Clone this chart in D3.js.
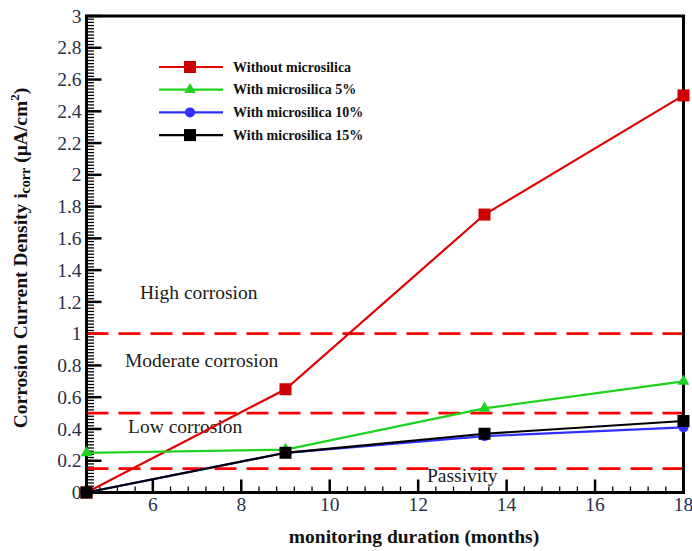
<!DOCTYPE html>
<html>
<head>
<meta charset="utf-8">
<script src="https://cdn.jsdelivr.net/npm/d3@7/dist/d3.min.js"></script>
<style>
  html, body { margin: 0; padding: 0; background: #fff; }
  svg { display: block; }
</style>
</head>
<body>
<svg id="chart" width="692" height="551"></svg>
<script>
// Monitoring times (months)
const months = [4.5, 9, 13.5, 18];

// Corrosion current density (µA/cm²) per mix
const withoutMicrosilica = [0, 0.65, 1.75, 2.5];
const microsilica5 = [0.25, 0.27, 0.53, 0.70];
const microsilica10 = [0, 0.25, 0.355, 0.41];
const microsilica15 = [0, 0.25, 0.37, 0.45];

const seriesNames = ["Without microsilica", "With microsilica 5%", "With microsilica 10%", "With microsilica 15%"];

// Corrosion-level thresholds and their labels
const thresholds = [1, 0.5, 0.15];
const zoneLabels = ["High corrosion", "Moderate corrosion", "Low corrosion", "Passivity"];

const xTicks = [6, 8, 10, 12, 14, 16, 18];
const yTicks = [0, 0.2, 0.4, 0.6, 0.8, 1, 1.2, 1.4, 1.6, 1.8, 2, 2.2, 2.4, 2.6, 2.8, 3];

const svg = d3.select("#chart");
const plotLeft = 86.5, plotRight = 683.5, plotTop = 16, plotBottom = 492.5;

const x = d3.scaleLinear().domain([4.5, 18]).range([plotLeft, plotRight]);
const y = d3.scaleLinear().domain([0, 3]).range([plotBottom, plotTop]);

const serif = "'Liberation Serif', 'Times New Roman', serif";
const tickColor = "#26304a";

// Minor tick positions
const yMinor = d3.range(0, 301, 2).map(v => v / 100).filter(v => !yTicks.some(t => Math.abs(t - v) < 1e-6));
const xMinor = d3.range(48, 181, 4).map(v => v / 10).filter(v => !xTicks.some(t => Math.abs(t - v) < 1e-6));

// Inward tick marks on the left axis
const tickLayer = svg.append("g").attr("stroke", "#000");
tickLayer.selectAll("line.ymin").data(yMinor).join("line").attr("class", "ymin")
  .attr("x1", plotLeft).attr("x2", plotLeft + 7.5)
  .attr("y1", d => y(d)).attr("y2", d => y(d)).attr("stroke-width", 1.3);
tickLayer.selectAll("line.ymaj").data(yTicks).join("line").attr("class", "ymaj")
  .attr("x1", plotLeft).attr("x2", plotLeft + 15)
  .attr("y1", d => y(d)).attr("y2", d => y(d)).attr("stroke-width", 2.5);

// Inward tick marks on the bottom axis
tickLayer.selectAll("line.xmin").data(xMinor).join("line").attr("class", "xmin")
  .attr("x1", d => x(d)).attr("x2", d => x(d))
  .attr("y1", plotBottom).attr("y2", plotBottom - 6).attr("stroke-width", 1.3);
tickLayer.selectAll("line.xmaj").data(xTicks).join("line").attr("class", "xmaj")
  .attr("x1", d => x(d)).attr("x2", d => x(d))
  .attr("y1", plotBottom).attr("y2", plotBottom - 13).attr("stroke-width", 2.5);

// Tick labels
const fmtY = d3.format("~g");
svg.append("g").selectAll("text").data(yTicks).join("text")
  .attr("x", plotLeft - 5).attr("y", d => y(d)).attr("dy", "0.34em")
  .attr("text-anchor", "end")
  .attr("font-family", serif).attr("font-size", 19.5).attr("fill", tickColor)
  .text(d => fmtY(d));

svg.append("g").selectAll("text").data(xTicks).join("text")
  .attr("x", d => x(d)).attr("y", plotBottom + 18)
  .attr("text-anchor", "middle")
  .attr("font-family", serif).attr("font-size", 19.5).attr("fill", tickColor)
  .text(d => d);

// Threshold lines
svg.append("g").selectAll("line").data(thresholds).join("line")
  .attr("x1", x(4.5)).attr("x2", x(18))
  .attr("y1", d => y(d)).attr("y2", d => y(d))
  .attr("stroke", "#ff0000").attr("stroke-width", 2.8)
  .attr("stroke-dasharray", "22,10");

// Zone labels
const zoneAnchors = [
  { x: 5.71, y: 1.22 }, { x: 5.37, y: 0.79 }, { x: 5.44, y: 0.375 }, { x: 12.2, y: 0.065 }
];
svg.append("g").selectAll("text").data(zoneLabels).join("text")
  .attr("x", (d, i) => x(zoneAnchors[i].x))
  .attr("y", (d, i) => y(zoneAnchors[i].y))
  .attr("text-anchor", "start")
  .attr("font-family", serif).attr("font-size", 19.5).attr("fill", "#1a1a1a")
  .text(d => d);

// Frame
svg.append("rect")
  .attr("x", plotLeft).attr("y", plotTop)
  .attr("width", plotRight - plotLeft).attr("height", plotBottom - plotTop)
  .attr("fill", "none").attr("stroke", "#000").attr("stroke-width", 3);

// Series
const series = [
  { name: seriesNames[0], values: withoutMicrosilica, color: "#e00000", fill: "#cc0000", marker: "square" },
  { name: seriesNames[1], values: microsilica5, color: "#1ed21e", fill: "#1ed21e", marker: "triangle" },
  { name: seriesNames[2], values: microsilica10, color: "#2f2fff", fill: "#2f2fff", marker: "circle" },
  { name: seriesNames[3], values: microsilica15, color: "#000000", fill: "#000000", marker: "square" }
];

const line = d3.line().x(d => x(d[0])).y(d => y(d[1]));

function drawMarker(g, type, color, cx, cy) {
  if (type === "square") {
    g.append("rect").attr("x", cx - 6).attr("y", cy - 6).attr("width", 12).attr("height", 12).attr("fill", color);
  } else if (type === "triangle") {
    g.append("path").attr("d", d3.symbol(d3.symbolTriangle, 60)()).attr("transform", `translate(${cx},${cy})`).attr("fill", color);
  } else {
    g.append("circle").attr("cx", cx).attr("cy", cy).attr("r", 5).attr("fill", color);
  }
}

series.forEach(s => {
  const pts = months.map((m, i) => [m, s.values[i]]);
  const g = svg.append("g");
  g.append("path").datum(pts).attr("d", line)
    .attr("fill", "none").attr("stroke", s.color).attr("stroke-width", 2.2);
  pts.forEach(p => drawMarker(g, s.marker, s.fill, x(p[0]), y(p[1])));
});

// Legend
const legend = svg.append("g");
series.forEach((s, i) => {
  const ly = 67 + i * 22.7;
  legend.append("line").attr("x1", 159).attr("x2", 223).attr("y1", ly).attr("y2", ly)
    .attr("stroke", s.color).attr("stroke-width", 2.2);
  drawMarker(legend, s.marker, s.fill, 190, ly);
  legend.append("text").attr("x", 233).attr("y", ly + 4.5)
    .attr("font-family", serif).attr("font-weight", "bold").attr("font-size", 14)
    .attr("fill", "#111").text(s.name);
});

// Axis titles
svg.append("text")
  .attr("x", 414).attr("y", 543).attr("text-anchor", "middle")
  .attr("font-family", serif).attr("font-weight", "bold").attr("font-size", 19.5)
  .attr("fill", "#111").text("monitoring duration (months)");

const yTitle = svg.append("text")
  .attr("transform", `translate(27,258) rotate(-90)`)
  .attr("text-anchor", "middle")
  .attr("font-family", serif).attr("font-weight", "bold").attr("font-size", 19.5)
  .attr("fill", "#111");
yTitle.append("tspan").text("Corrosion Current Density i");
yTitle.append("tspan").attr("font-size", 14).attr("dy", 3).text("corr");
yTitle.append("tspan").attr("dy", -3).text(" (µA/cm");
yTitle.append("tspan").attr("font-size", 13).attr("dy", -8).text("2");
yTitle.append("tspan").attr("dy", 8).text(")");
</script>
</body>
</html>
